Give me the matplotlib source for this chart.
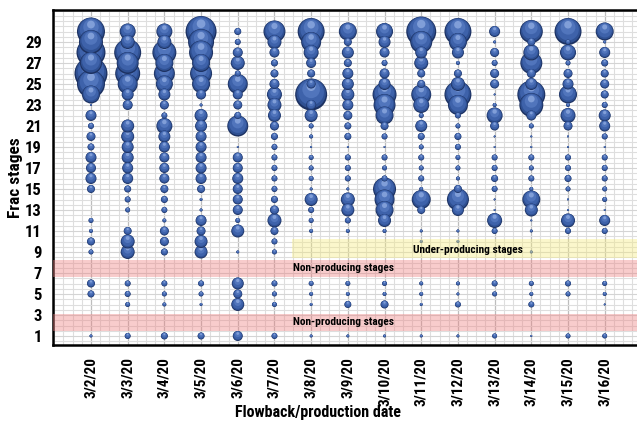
import numpy as np
import matplotlib.pyplot as plt
from matplotlib.ticker import MultipleLocator

plt.rcParams['font.family'] = ['Roboto Condensed', 'Liberation Sans Narrow', 'DejaVu Sans']
plt.rcParams['font.stretch'] = 'condensed'

dates = ['3/2/20', '3/3/20', '3/4/20', '3/5/20', '3/6/20', '3/7/20', '3/8/20',
         '3/9/20', '3/10/20', '3/11/20', '3/12/20', '3/13/20', '3/14/20',
         '3/15/20', '3/16/20']
stages = np.arange(1, 31)

# relative contribution per frac stage (stage 1 .. 30), one list per day
d0302 = [3, 0, 0, 0, 7, 8, 0, 0, 5, 8, 4, 5, 0, 0, 8, 11, 10, 11, 7, 9, 6, 11, 2, 18, 28, 33, 22, 29, 24, 28]
d0303 = [6, 0, 0, 5, 6, 6, 0, 0, 14, 14, 8, 0, 5, 6, 7, 11, 11, 12, 12, 13, 13, 0, 10, 12, 20, 25, 22, 27, 14, 16]
d0304 = [7, 0, 0, 4, 5, 6, 0, 0, 7, 9, 9, 4, 6, 7, 8, 10, 10, 10, 11, 12, 16, 6, 9, 12, 17, 21, 18, 24, 14, 16]
d0305 = [7, 0, 0, 3, 5, 6, 0, 0, 13, 13, 9, 11, 3, 3, 8, 11, 11, 11, 11, 11, 12, 13, 3, 10, 18, 22, 18, 24, 26, 31]
d0306 = [10, 0, 0, 13, 9, 12, 0, 0, 3, 0, 13, 5, 10, 10, 10, 11, 10, 10, 2, 0, 21, 7, 9, 10, 20, 6, 14, 10, 6, 7]
d0307 = [6, 0, 0, 5, 5, 6, 0, 0, 5, 6, 8, 14, 9, 7, 6, 6, 6, 6, 6, 7, 9, 13, 14, 15, 10, 8, 7, 10, 14, 22]
d0308 = [3, 0, 0, 3, 4, 5, 0, 0, 0, 0, 4, 5, 6, 13, 3, 5, 5, 5, 2, 4, 5, 13, 10, 32, 9, 8, 10, 15, 20, 27]
d0309 = [3, 0, 0, 7, 4, 5, 0, 0, 0, 0, 4, 6, 13, 14, 3, 6, 6, 6, 2, 7, 7, 9, 11, 13, 12, 11, 8, 12, 8, 18]
d0310 = [3, 0, 0, 8, 4, 5, 0, 0, 0, 0, 4, 13, 18, 20, 23, 6, 5, 6, 2, 6, 8, 18, 22, 24, 12, 10, 6, 10, 12, 17]
d0311 = [3, 0, 0, 3, 4, 4, 0, 0, 0, 3, 3, 0, 8, 19, 4, 6, 5, 6, 5, 7, 12, 5, 16, 20, 8, 8, 14, 12, 22, 30]
d0312 = [3, 0, 0, 6, 3, 4, 0, 0, 0, 3, 3, 0, 12, 22, 8, 4, 5, 5, 6, 7, 5, 6, 20, 27, 14, 8, 4, 12, 18, 27]
d0313 = [5, 0, 0, 0, 5, 6, 0, 0, 0, 0, 6, 15, 2, 2, 6, 7, 6, 6, 2, 2, 9, 16, 4, 2, 9, 9, 6, 9, 3, 11]
d0314 = [2, 0, 0, 6, 4, 5, 0, 0, 3, 0, 3, 2, 13, 18, 4, 6, 5, 6, 2, 2, 5, 10, 24, 28, 12, 9, 22, 16, 8, 23]
d0315 = [5, 0, 0, 0, 5, 6, 0, 0, 0, 0, 6, 14, 2, 2, 5, 7, 6, 6, 2, 2, 9, 15, 4, 18, 11, 9, 5, 16, 5, 27]
d0316 = [5, 0, 0, 2, 4, 5, 0, 0, 0, 0, 6, 11, 2, 5, 5, 6, 6, 6, 2, 6, 11, 12, 6, 8, 9, 8, 7, 11, 3, 18]
day_values = [d0302, d0303, d0304, d0305, d0306, d0307, d0308, d0309, d0310,
              d0311, d0312, d0313, d0314, d0315, d0316]

# shaded stage ranges
non_producing = [(6.65, 8.25), (1.5, 3.1)]
under_producing = (8.4, 10.2)
under_start = 5.48

fig = plt.figure(figsize=(6.37, 4.29), dpi=100)
ax = fig.add_axes([53 / 637, 1 - 345 / 429, 584 / 637, 335 / 429])
ax.set_xlim(-1.035, 14.88)
ax.set_ylim(0.143, 32.05)

# grid
ax.set_axisbelow(True)
ax.xaxis.set_major_locator(MultipleLocator(1))
ax.xaxis.set_minor_locator(MultipleLocator(0.25))
ax.yaxis.set_major_locator(MultipleLocator(2, offset=1))
ax.yaxis.set_minor_locator(MultipleLocator(0.5))
ax.grid(which='minor', color='#dedede', lw=0.8)
ax.grid(which='major', axis='y', color='#d4d4d4', lw=0.8)
ax.grid(which='major', axis='x', color='#bdbdbd', lw=0.9)

# bubbles: stacked circles give a simple 3D look
px_stage = 335 / (32.05 - 0.143)
shade = [(1.00, 0.00, '#1d3262'),
         (0.92, 0.03, '#2f5092'),
         (0.80, 0.07, '#3e62aa'),
         (0.55, 0.16, '#5175bc'),
         (0.28, 0.25, '#809ed8')]
bubbles = []
for i, vals in enumerate(day_values):
    for s, v in zip(stages, vals):
        if v > 0:
            bubbles.append((v, i, s))
bubbles.sort(key=lambda b: -b[0])
for z, (v, i, s) in enumerate(bubbles):
    ys = [s + off * v / px_stage for _, off, _ in shade]
    sz = [(k * v * 0.72) ** 2 for k, _, _ in shade]
    cols = [c for _, _, c in shade]
    ax.scatter([i] * len(shade), ys, s=sz, c=cols, linewidths=0, zorder=3 + z * 0.001)

# bands
for lo, hi in non_producing:
    ax.axhspan(lo, hi, color='#ee8080', alpha=0.4, lw=0, zorder=4)
    ax.text(5.5, (lo + hi) / 2, 'Non-producing stages', fontsize=8.2,
            fontweight='bold', va='center', ha='left', zorder=5)
ax.fill_between([under_start, 14.88], under_producing[0], under_producing[1],
                color='#f6ec80', alpha=0.4, lw=0, zorder=4)
ax.text(8.77, 9.2, 'Under-producing stages', fontsize=8.2, fontweight='bold',
        va='center', ha='left', zorder=5)

ax.set_xticks(range(len(dates)))
ax.set_xticklabels(dates, rotation=90, fontsize=11, fontweight='bold')
ax.set_yticks(stages[::2])
ax.set_yticklabels([str(s) for s in stages[::2]], fontsize=12, fontweight='bold')
ax.tick_params(which='both', length=0)
ax.tick_params(axis='x', pad=9)
ax.tick_params(axis='y', pad=8)

for side in ['top', 'left', 'bottom']:
    ax.spines[side].set_linewidth(1.8)
    ax.spines[side].set_color('black')
ax.spines['right'].set_visible(False)

ax.set_xlabel('Flowback/production date', fontsize=11.5, fontweight='bold')
ax.set_ylabel('Frac stages', fontsize=12.5, fontweight='bold')
ax.xaxis.set_label_coords(0.454, -0.18)
ax.xaxis.label.set_va('top')
ax.yaxis.set_label_coords(-0.052, 0.5)

fig.savefig('out.png', dpi=100)
